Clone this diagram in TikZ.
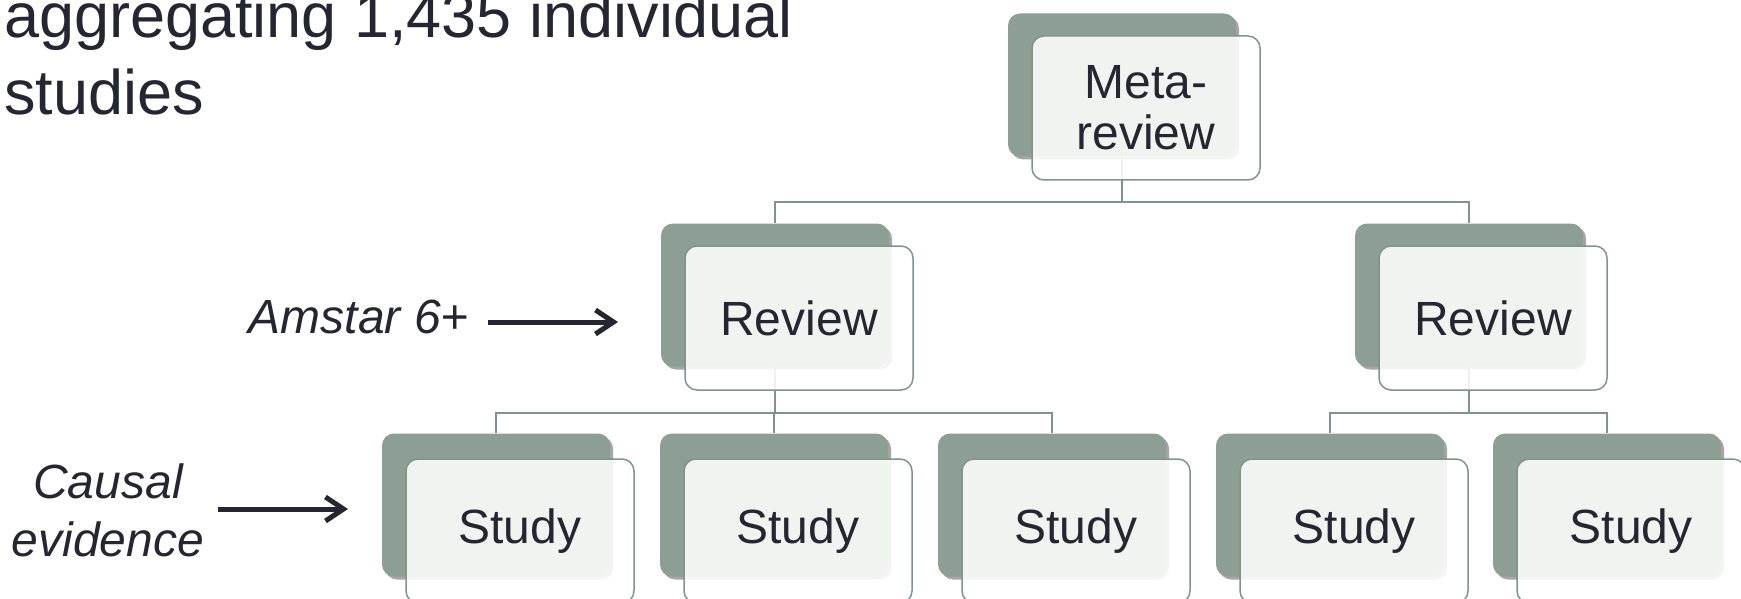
\documentclass[tikz,border=0pt]{standalone}
\usepackage{fontspec}
\setmainfont{Liberation Sans}
\usepackage{tikz}
\usetikzlibrary{positioning,calc}
\usetikzlibrary{shadows,arrows.meta}

\definecolor{boxgreen}{RGB}{141,159,148}
\definecolor{linkgreen}{RGB}{128,148,138}
\definecolor{ink}{RGB}{38,38,50}

\tikzset{
  cardback/.style={rectangle, rounded corners=12pt, minimum width=228pt, minimum height=143pt,
    fill=boxgreen, drop shadow={shadow xshift=3pt, shadow yshift=-3pt, opacity=0.35, fill=black}},
  cardfront/.style={rectangle, rounded corners=12pt, minimum width=228pt, minimum height=144pt,
    draw=linkgreen, line width=1.5pt, fill=white, fill opacity=0.88, text opacity=1,
    text=ink, align=center, font=\fontsize{48}{51}\selectfont},
  link/.style={draw=linkgreen, line width=1.8pt},
  sidenote/.style={inner sep=0pt, text=ink, font=\fontsize{48}{58}\selectfont\itshape},
  pointer/.style={draw=ink, line width=5pt, -{Straight Barb[length=18pt, width=24pt]}}
}

\begin{document}
\begin{tikzpicture}[x=1pt, y=-1pt]
    \useasboundingbox (0,0) rectangle (1741,599);
    \clip (0,0) rectangle (1741,599);

    % Define nodes
    \node[cardback]		(meta)		at (1122,85)	{};
    \node[cardback]		(revl)		at (775,295)	{};
    \node[cardback]		(revr)		at (1469,295)	{};
    \node[cardback]		(st1)		at (496,505)	{};
    \node[cardback]		(st2)		at (774,505)	{};
    \node[cardback]		(st3)		at (1052,505)	{};
    \node[cardback]		(st4)		at (1330,505)	{};
    \node[cardback]		(st5)		at (1607,505)	{};

    % Connect nodes
    \draw[link] (meta.south) -- ++(0,45) -| (revl.north);
    \draw[link] (meta.south) -- ++(0,45) -| (revr.north);
    \draw[link] (revl.south) -- ++(0,46) -| (st1.north);
    \draw[link] (revl.south) -- ++(0,46) -| (st2.north);
    \draw[link] (revl.south) -- ++(0,46) -| (st3.north);
    \draw[link] (revr.south) -- ++(0,46) -| (st4.north);
    \draw[link] (revr.south) -- ++(0,46) -| (st5.north);

    % front cards
    \node[cardfront]	(metaf)		at ($(meta)+(24,23)$)	{Meta-\\review};
    \node[cardfront]	(revlf)		at ($(revl)+(24,23)$)	{Review};
    \node[cardfront]	(revrf)		at ($(revr)+(24,23)$)	{Review};
    \node[cardfront]	(st1f)		at ($(st1)+(24,26)$)	{Study};
    \node[cardfront]	(st2f)		at ($(st2)+(24,26)$)	{Study};
    \node[cardfront]	(st3f)		at ($(st3)+(24,26)$)	{Study};
    \node[cardfront]	(st4f)		at ($(st4)+(24,26)$)	{Study};
    \node[cardfront]	(st5f)		at ($(st5)+(24,26)$)	{Study};

    % side notes
    \node[anchor=north west, inner sep=0pt, text=ink, align=left,
          font=\fontsize{63}{77}\selectfont]	(title)	at (4,-8)	{aggregating 1,435 individual\\studies};
    \node[sidenote, anchor=base east]	(amstar)	at (469,333)	{Amstar 6+};
    \node[sidenote, align=center]		(causal)	at (108,510)	{Causal\\evidence};
    \coordinate (amtail) at (488,322);
    \coordinate (amtip) at (618,322);
    \coordinate (catail) at (218,509);
    \coordinate (catip) at (348,509);
    \draw[pointer] (amtail) -- (amtip);
    \draw[pointer] (catail) -- (catip);
\end{tikzpicture}
\end{document}
